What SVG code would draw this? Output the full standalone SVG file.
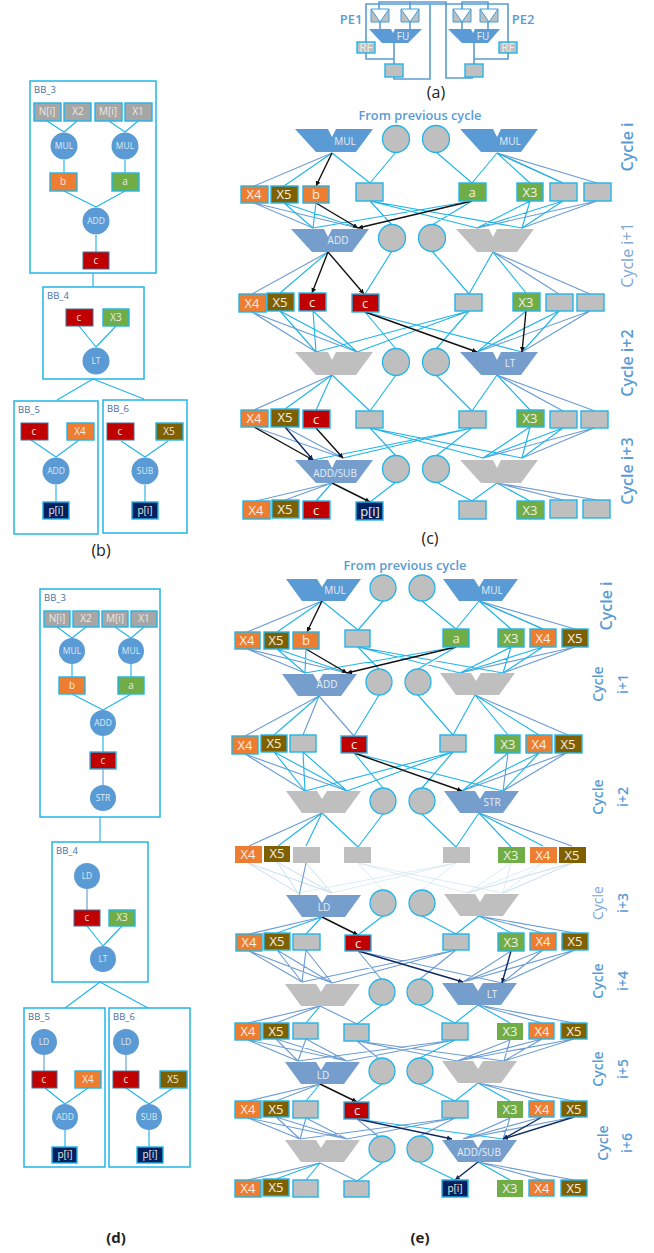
<svg xmlns="http://www.w3.org/2000/svg" width="654" height="1253" viewBox="0 0 654 1253">
<style>
text{font-family:"Open Sans","Noto Sans","Liberation Sans",sans-serif;text-anchor:middle}
.b{fill:none;stroke:#22b5e8;stroke-width:1.15}
.s{fill:none;stroke:#6d9dd4;stroke-width:1.15}
.f{fill:none;stroke:#d3e8ee;stroke-width:.8}
.f2{fill:none;stroke:#b9d5ea;stroke-width:.8}
.k{fill:none;stroke:#111;stroke-width:1.4;marker-end:url(#ak)}
.n{fill:none;stroke:#0f2a63;stroke-width:1.4;marker-end:url(#an)}
.p{fill:none;stroke:#5b9bd5;stroke-width:1.6}
.r{stroke:#22b5e8;stroke-width:1.4}
.o{fill:#ed7d31}.l{fill:#7f6000}.g{fill:#70ad47}.d{fill:#c00000}.v{fill:#002060}.y{fill:#bfbfbf}.a{fill:#a6a6a6}
.nb{stroke:none}
.c{fill:#bfbfbf;stroke:#22b5e8;stroke-width:1.3}
.o1{fill:#5b9bd5}
.box{fill:none;stroke:#22b5e8;stroke-width:1.5}
.m1{fill:#5b9bd5}.m2{fill:#759ecd}.m3{fill:#bfbfbf}
.t{font-size:13px;fill:#f4efe4}
.ts{font-size:10px;fill:#efe9e0}
.tc{font-size:8.5px;fill:#dfe9f4}
.ft{font-size:10px;fill:#e6edf6}
.bb{font-size:9.5px;fill:#47709f}
.cy{font-size:14px;fill:#5b9bd5;font-weight:600}
.cl{font-size:14px;fill:#7ea6d4}
.big{font-size:16px}
.hd{font-size:12.8px;fill:#5b9bd5;font-weight:600}
.pe{font-size:13px;fill:#5b9bd5;font-weight:600}
.cap{font-size:16px;fill:#222}
.cb{font-size:15px;fill:#222;font-weight:700}
</style>
<defs>
<marker id="ak" markerWidth="6" markerHeight="6" refX="5" refY="2.5" orient="auto" markerUnits="userSpaceOnUse"><path d="M0 0L5 2.5 0 5Z" fill="#111"/></marker>
<marker id="an" markerWidth="6" markerHeight="6" refX="5" refY="2.5" orient="auto" markerUnits="userSpaceOnUse"><path d="M0 0L5 2.5 0 5Z" fill="#0f2a63"/></marker>
<path id="fu" d="M0 0H33L37 8 41 0H78L61 23H21Z"/>
<path id="fe" d="M0 0H31L36 8 41 0H75L59 22H16Z"/>
<path id="mx" d="M0 0H18V13H0ZM0 0L9 13 18 0" />
</defs>

<g id="connectors">
<!-- (a) -->
<path class="p" d="M366 42V4H430V79H394V77M379 9V2H446V78H473M410 9V2M430 4H508V42M462 9V2H488V9M380 22V29M410 22V29M462 22V29M488 22V29M394 43V64M366 53V59H394M474 43V64M508 53V59H474"/>
<!-- (b) -->
<path class="b" d="M47 121L64 132M77 121L64 132M109 121L125 132M138 121L125 132M64 160V173M125 160V173M64 191L96 207M125 191L96 207M96 235V252M93 273V287M79 326L96 347M116 326L96 347M93 379L57 400M93 379L144 399M31 440L56 457M79 440L56 457M56 485V502M121 441L145 457M168 441L145 457M145 485V502"/>
<!-- (d) -->
<path class="b" d="M57 627L72 638M86 627L72 638M115 627L131 638M144 627L131 638M72 664V677M131 664V677M72 694L103 710M131 694L103 710M103 736V752M100 817V842M87 926L103 946M122 926L103 946M100 982L65 1008M100 982L148 1008M45 1088L65 1104M88 1088L65 1104M65 1130V1147M126 1088L149 1104M173 1088L149 1104M149 1130V1147"/>
<path class="s" d="M103 769V785M87 889V910M44 1055V1071M126 1055V1071"/>
<!-- (c) layer 0 -->
<path class="s" d="M332 153L254 186M497 153L597 183M497 153L563 183"/>
<path class="b" d="M332 153L284 186M332 153L370 183M396 152L370 183M436 152L472 183M497 153L472 183M497 153L530 183M497 153L563 183"/>
<path class="k" d="M332 153L316 186"/>
<!-- layer 1 -->
<path class="s" d="M254 203L313 228M254 203L358 228M597 201L477 228M597 201L522 228"/>
<path class="b" d="M284 203L313 228M284 203L358 228M316 203L313 228M370 201L392 225M370 201L477 228M370 201L522 228M472 201L432 225M472 201L313 228M530 201L477 228M530 201L522 228M563 201L477 228M563 201L522 228"/>
<path class="k" d="M316 203L358 228"/><path class="k" d="M472 201L358 228"/>
<!-- layer 2 -->
<path class="s" d="M328 252L252 294M493 252L559 294M493 252L590 294"/>
<path class="b" d="M328 252L280 293M392 251L365 294M432 251L469 294M493 252L469 294M493 252L526 293"/>
<path class="k" d="M328 252L312 293"/><path class="k" d="M328 252L364 294"/>
<!-- layer 3 -->
<path class="s" d="M252 312L316 352M252 312L357 352M590 311L477 352M590 311L522 352"/>
<path class="b" d="M280 311L316 352M280 311L357 352M313 311L316 352M313 311L357 352M365 312L396 349M365 312L522 352M469 311L436 349M469 311L316 352M469 311L357 352M526 311L477 352M559 311L477 352M559 311L522 352"/>
<path class="k" d="M365 312L477 352"/><path class="k" d="M526 311L522 352"/>
<!-- layer 4 -->
<path class="s" d="M332 375L254 410M497 375L563 411M497 375L595 411"/>
<path class="b" d="M332 375L285 409M332 375L316 410M332 375L370 411M396 375L370 411M436 375L472 411M497 375L472 411M497 375L530 410"/>
<!-- layer 5 -->
<path class="s" d="M254 427L343 458M285 427L343 458M594 428L483 458M594 428L522 458"/>
<path class="b" d="M370 428L396 456M370 428L483 458M370 428L522 458M472 428L436 456M472 428L313 460M472 428L343 458M530 427L483 458M530 427L522 458M563 428L483 458M563 428L522 458"/>
<path class="k" d="M254 427L313 460"/><path class="n" d="M285 427L313 460"/><path class="k" d="M316 428L343 458"/>
<!-- layer 6 -->
<path class="s" d="M332 483L256 501M332 483L285 500M497 483L563 500M497 483L597 500"/>
<path class="b" d="M332 483L316 501M396 482L370 502M436 482L472 501M497 483L472 501M497 483L530 501"/>
<path class="k" d="M332 483L370 502"/>
<!-- (e) layer 0 -->
<path class="s" d="M322 601L247 632M479 601L575 629M479 601L543 629"/>
<path class="b" d="M322 601L277 632M322 601L358 630M383 601L358 630M422 601L456 629M479 601L456 629M479 601L511 629M479 601L543 629"/>
<path class="k" d="M322 601L307 632"/>
<!-- layer 1 -->
<path class="s" d="M247 649L305 673M247 649L347 673M575 647L460 673M575 647L503 673"/>
<path class="b" d="M277 649L305 673M277 649L347 673M306 649L305 673M358 647L379 669M358 647L460 673M358 647L503 673M456 647L418 669M456 647L305 673M511 647L460 673M511 647L503 673M543 647L460 673M543 647L503 673"/>
<path class="k" d="M306 649L347 673"/><path class="k" d="M456 647L347 673"/>
<!-- layer 2 -->
<path class="s" d="M319 696L245 736M319 696L303 735M319 696L354 736M475 695L568 735"/>
<path class="b" d="M319 696L274 735M379 695L354 736M418 695L453 735M475 695L453 735M475 695L508 735M475 695L539 735"/>
<!-- layer 3 -->
<path class="s" d="M245 754L305 791M245 754L347 791M508 753L503 791M568 752L462 791M568 752L503 791"/>
<path class="b" d="M274 752L305 791M274 752L347 791M303 752L305 791M303 752L347 791M354 753L383 788M354 753L503 791M453 752L422 788M453 752L305 791M453 752L347 791M508 753L462 791M539 753L462 791M539 753L503 791"/>
<path class="k" d="M354 753L462 791"/>
<!-- layer 4 -->
<path class="s" d="M322 813L249 846M479 813L572 846"/>
<path class="b" d="M322 813L278 846M322 813L306 846M322 813L358 847M383 814L358 847M422 814L456 847M479 813L456 847M479 813L511 847M479 813L543 846"/>
<!-- layer 5: faded -->
<path class="f2" d="M248 863L298 893M248 863L332 893M277 862L298 893M277 862L332 893M306 863L332 893M575 862L467 893M575 862L503 893"/>
<path class="f" d="M358 863L383 890M358 863L467 893M358 863L503 893M456 863L422 890M456 863L298 893M456 863L332 893M511 863L467 893M511 863L503 893M543 863L467 893M543 863L503 893"/>
<path class="s" d="M306 863L297 905"/>
<!-- layer 6 -->
<path class="s" d="M322 917L249 934M479 916L543 933M479 916L575 933"/>
<path class="b" d="M322 917L277 933M322 917L306 934M383 916L358 935M422 916L456 934M479 916L456 934M479 916L511 933"/>
<path class="k" d="M322 917L358 935"/>
<!-- layer 7 -->
<path class="s" d="M249 951L302 982M249 951L332 983M277 950L302 982M277 950L332 983M306 950L302 982M306 950L332 983M358 951L381 979M358 951L502 983M456 950L420 979M456 950L302 982M456 950L332 983M511 951L463 982M543 950L463 982M543 950L502 983M575 950L463 982M575 950L502 983"/>
<path class="n" d="M358 951L463 982"/><path class="n" d="M511 951L502 983"/>
<!-- layer 8 -->
<path class="s" d="M320 1006L248 1023M320 1006L276 1023M320 1006L357 1024M478 1005L542 1023M478 1005L574 1023"/>
<path class="b" d="M320 1006L306 1023M382 1005L357 1024M420 1005L455 1023M478 1005L455 1023M478 1005L510 1023"/>
<!-- layer 9 -->
<path class="s" d="M248 1040L298 1061M248 1040L347 1061M276 1039L298 1061M276 1039L347 1061M306 1039L298 1061M306 1039L347 1061M357 1041L378 1058M357 1041L457 1061M357 1041L504 1061M455 1040L298 1061M455 1040L347 1061M510 1040L457 1061M510 1040L504 1061M542 1039L457 1061M542 1039L504 1061M574 1039L457 1061M574 1039L504 1061"/>
<path class="b" d="M455 1040L420 1058"/>
<!-- layer 10 -->
<path class="s" d="M320 1084L248 1101M320 1084L276 1101M478 1083L542 1101M478 1083L574 1101"/>
<path class="b" d="M320 1084L306 1101M382 1084L357 1102M420 1084L455 1101M478 1083L455 1101M478 1083L510 1101"/>
<path class="k" d="M320 1084L357 1102"/>
<!-- layer 11 -->
<path class="s" d="M248 1118L300 1139M248 1118L347 1139M276 1117L300 1139M276 1117L347 1139M306 1118L300 1139M306 1118L347 1139M357 1119L378 1136M455 1118L420 1136M455 1118L300 1139M455 1118L347 1139M510 1118L463 1139M510 1118L503 1139M542 1117L463 1139M574 1117L463 1139"/>
<path class="b" d="M357 1119L503 1139"/>
<path class="n" d="M357 1119L452 1139"/><path class="n" d="M542 1117L503 1139"/><path class="n" d="M574 1117L503 1139"/>
<!-- layer 12 -->
<path class="s" d="M320 1163L248 1180M320 1163L357 1181M478 1162L542 1180M478 1162L574 1180"/>
<path class="b" d="M320 1163L276 1179M320 1163L306 1180M382 1163L357 1181M420 1163L455 1180M478 1162L510 1180"/>
<path class="n" d="M478 1162L455 1180"/>
</g>

<g id="a-nodes">
<g id="a-m1"><use href="#mx" transform="translate(371 9)" fill="#bfbfbf" stroke="#3f9fdc"/></g>
<g id="a-m2"><use href="#mx" transform="translate(401 9)" fill="#bfbfbf" stroke="#3f9fdc"/></g>
<g id="a-m3"><use href="#mx" transform="translate(453 9)" fill="#bfbfbf" stroke="#3f9fdc"/></g>
<g id="a-m4"><use href="#mx" transform="translate(480 9)" fill="#bfbfbf" stroke="#3f9fdc"/></g>
<g id="a-fu1"><path class="m1" d="M369 29H391L393 33 395 29H422L408 43H382Z"/><text class="ft" x="403" y="40">FU</text></g>
<g id="a-fu2"><path class="m1" d="M448 29H471L473 33 475 29H500L488 43H462Z"/><text class="ft" x="483" y="40">FU</text></g>
<g id="a-rf1"><rect class="r y" x="357" y="42" width="18" height="11"/><text class="ts" x="366" y="52" style="font-size:12px">RF</text></g>
<g id="a-rf2"><rect class="r y" x="499" y="42" width="18" height="11"/><text class="ts" x="508" y="52" style="font-size:12px">RF</text></g>
<g id="a-r1"><rect class="r y" x="385" y="64" width="18" height="13"/></g>
<g id="a-r2"><rect class="r y" x="465" y="64" width="18" height="13"/></g>
<text class="pe" x="351" y="24">PE1</text><text class="pe" x="523" y="24">PE2</text>
<text class="cap" x="436" y="98">(a)</text>
</g>

<g id="b-nodes">
<g id="b-bb3"><rect class="box" x="30" y="81" width="126" height="192"/><text class="bb" x="45" y="93">BB_3</text></g>
<g id="b-n"><rect class="r a" x="34" y="103" width="27" height="18"/><text class="ts" x="47" y="115">N[i]</text></g>
<g id="b-x2"><rect class="r a" x="64" y="103" width="27" height="18"/><text class="ts" x="78" y="115">X2</text></g>
<g id="b-m"><rect class="r a" x="95" y="103" width="27" height="18"/><text class="ts" x="108" y="115">M[i]</text></g>
<g id="b-x1"><rect class="r a" x="125" y="103" width="27" height="18"/><text class="ts" x="138" y="115">X1</text></g>
<g id="b-mul1"><circle class="o1" cx="64" cy="146" r="13.5"/><text class="tc" x="64" y="149">MUL</text></g>
<g id="b-mul2"><circle class="o1" cx="125" cy="146" r="13.5"/><text class="tc" x="125" y="149">MUL</text></g>
<g id="b-b"><rect class="r o" x="50" y="173" width="27" height="18"/><text class="ts" x="63" y="185">b</text></g>
<g id="b-a"><rect class="r g" x="112" y="173" width="27" height="18"/><text class="ts" x="125" y="185">a</text></g>
<g id="b-add"><circle class="o1" cx="96" cy="221" r="13.5"/><text class="tc" x="96" y="224">ADD</text></g>
<g id="b-c"><rect class="d" x="83" y="252" width="26" height="17" stroke="#41719c"/><text class="ts" x="96" y="264">c</text></g>
<g id="b-bb4"><rect class="box" x="43" y="287" width="101" height="92"/><text class="bb" x="58" y="299">BB_4</text></g>
<g id="b4-c"><rect class="d" x="66" y="309" width="27" height="17" stroke="#41719c"/><text class="ts" x="79" y="321">c</text></g>
<g id="b4-x3"><rect class="r g" x="103" y="309" width="26" height="17"/><text class="ts" x="116" y="321">X3</text></g>
<g id="b4-lt"><circle class="o1" cx="96" cy="361" r="13.5"/><text class="tc" x="96" y="364">LT</text></g>
<g id="b-bb5"><rect class="box" x="14" y="401" width="84" height="133"/><text class="bb" x="29" y="413">BB_5</text></g>
<g id="b5-c"><rect class="d" x="21" y="423" width="27" height="17" stroke="#41719c"/><text class="ts" x="34" y="435">c</text></g>
<g id="b5-x4"><rect class="r o" x="67" y="423" width="27" height="17"/><text class="ts" x="80" y="435">X4</text></g>
<g id="b5-add"><circle class="o1" cx="56" cy="471" r="13.5"/><text class="tc" x="56" y="474">ADD</text></g>
<g id="b5-p"><rect class="r v" x="43" y="502" width="26" height="17"/><text class="ts" x="56" y="514">p[i]</text></g>
<g id="b-bb6"><rect class="box" x="103" y="400" width="84" height="133"/><text class="bb" x="118" y="412">BB_6</text></g>
<g id="b6-c"><rect class="d" x="107" y="423" width="27" height="17" stroke="#41719c"/><text class="ts" x="120" y="435">c</text></g>
<g id="b6-x5"><rect class="r l" x="156" y="423" width="27" height="17"/><text class="ts" x="169" y="435">X5</text></g>
<g id="b6-sub"><circle class="o1" cx="145" cy="471" r="13.5"/><text class="tc" x="145" y="474">SUB</text></g>
<g id="b6-p"><rect class="r v" x="132" y="502" width="26" height="17"/><text class="ts" x="145" y="514">p[i]</text></g>
<text class="cap" x="101" y="556">(b)</text>
</g>

<g id="c-nodes">
<text class="hd" x="420" y="120">From previous cycle</text>
<g id="c-fu0a"><use class="m1" href="#fu" x="295" y="129"/><text class="ft" x="345" y="145">MUL</text></g>
<g id="c-ci0"><circle class="c" cx="396" cy="139" r="13.5"/></g>
<g id="c-ci1"><circle class="c" cx="436" cy="139" r="13.5"/></g>
<g id="c-fu0b"><use class="m1" href="#fu" x="460" y="129"/><text class="ft" x="510" y="145">MUL</text></g>
<g id="c1-x4"><rect class="r o" x="241" y="186" width="27" height="17"/><text class="t" x="254" y="199">X4</text></g>
<g id="c1-x5"><rect class="r l" x="271" y="186" width="27" height="17"/><text class="t" x="284" y="199">X5</text></g>
<g id="c1-b"><rect class="r o" x="303" y="186" width="26" height="17"/><text class="t" x="316" y="199">b</text></g>
<g id="c1-e1"><rect class="r y" x="356" y="183" width="27" height="18"/></g>
<g id="c1-a"><rect class="r g" x="459" y="183" width="27" height="18"/><text class="t" x="472" y="197">a</text></g>
<g id="c1-x3"><rect class="r g" x="517" y="183" width="26" height="18"/><text class="t" x="530" y="197">X3</text></g>
<g id="c1-e2"><rect class="r y" x="550" y="183" width="27" height="18"/></g>
<g id="c1-e3"><rect class="r y" x="584" y="183" width="27" height="18"/></g>
<g id="c-fu1a"><use class="m2" href="#fu" x="291" y="229"/><text class="ft" x="338" y="244">ADD</text></g>
<g id="c-ci2"><circle class="c" cx="392" cy="238" r="13.5"/></g>
<g id="c-ci3"><circle class="c" cx="432" cy="238" r="13.5"/></g>
<g id="c-fu1b"><use class="m3" href="#fu" x="456" y="229"/></g>
<g id="c2-x4"><rect class="r o" x="239" y="294" width="27" height="18"/><text class="t" x="252" y="308">X4</text></g>
<g id="c2-x5"><rect class="r l" x="267" y="293" width="27" height="18"/><text class="t" x="280" y="307">X5</text></g>
<g id="c2-c1"><rect class="r d" x="299" y="293" width="27" height="18"/><text class="t" x="312" y="307">c</text></g>
<g id="c2-c2"><rect class="r d" x="352" y="294" width="27" height="18"/><text class="t" x="365" y="308">c</text></g>
<g id="c2-e1"><rect class="r y" x="455" y="294" width="27" height="17"/></g>
<g id="c2-x3"><rect class="r g" x="513" y="293" width="27" height="18"/><text class="t" x="526" y="307">X3</text></g>
<g id="c2-e2"><rect class="r y" x="546" y="294" width="27" height="17"/></g>
<g id="c2-e3"><rect class="r y" x="577" y="294" width="27" height="17"/></g>
<g id="c-fu2a"><use class="m3" href="#fu" x="295" y="352"/></g>
<g id="c-ci4"><circle class="c" cx="396" cy="362" r="13.5"/></g>
<g id="c-ci5"><circle class="c" cx="436" cy="362" r="13.5"/></g>
<g id="c-fu2b"><use class="m2" href="#fu" x="460" y="352"/><text class="ft" x="510" y="367">LT</text></g>
<g id="c3-x4"><rect class="r o" x="241" y="410" width="27" height="17"/><text class="t" x="254" y="423">X4</text></g>
<g id="c3-x5"><rect class="r l" x="271" y="409" width="28" height="18"/><text class="t" x="285" y="422">X5</text></g>
<g id="c3-c"><rect class="r d" x="303" y="410" width="27" height="18"/><text class="t" x="316" y="424">c</text></g>
<g id="c3-e1"><rect class="r y" x="356" y="411" width="27" height="17"/></g>
<g id="c3-e2"><rect class="r y" x="459" y="411" width="27" height="17"/></g>
<g id="c3-x3"><rect class="r g" x="517" y="410" width="27" height="17"/><text class="t" x="530" y="423">X3</text></g>
<g id="c3-e3"><rect class="r y" x="550" y="411" width="27" height="17"/></g>
<g id="c3-e4"><rect class="r y" x="581" y="411" width="27" height="17"/></g>
<g id="c-fu3a"><use class="m2" href="#fu" x="295" y="460"/><text class="ft" x="335" y="477">ADD/SUB</text></g>
<g id="c-ci6"><circle class="c" cx="396" cy="469" r="13.5"/></g>
<g id="c-ci7"><circle class="c" cx="436" cy="469" r="13.5"/></g>
<g id="c-fu3b"><use class="m3" href="#fu" x="460" y="460"/></g>
<g id="c4-x4"><rect class="r o" x="243" y="501" width="27" height="18"/><text class="t" x="256" y="515">X4</text></g>
<g id="c4-x5"><rect class="r l" x="272" y="500" width="27" height="18"/><text class="t" x="285" y="514">X5</text></g>
<g id="c4-c"><rect class="r d" x="303" y="501" width="27" height="18"/><text class="t" x="316" y="515">c</text></g>
<g id="c4-p"><rect class="r v" x="356" y="502" width="27" height="18"/><text class="t" x="370" y="516">p[i]</text></g>
<g id="c4-e1"><rect class="r y" x="459" y="501" width="27" height="18"/></g>
<g id="c4-x3"><rect class="r g" x="517" y="501" width="27" height="18"/><text class="t" x="530" y="515">X3</text></g>
<g id="c4-e2"><rect class="r y" x="550" y="500" width="27" height="18"/></g>
<g id="c4-e3"><rect class="r y" x="583" y="500" width="27" height="18"/></g>
<text class="cy big" transform="translate(633 147) rotate(-90)">Cycle i</text>
<text class="cl big" transform="translate(633 255) rotate(-90)">Cycle i+1</text>
<text class="cy big" transform="translate(633 363) rotate(-90)">Cycle i+2</text>
<text class="cy big" transform="translate(633 471) rotate(-90)">Cycle i+3</text>
<text class="cap" x="430" y="544">(c)</text>
</g>

<g id="d-nodes">
<g id="d-bb3"><rect class="box" x="40" y="589" width="120" height="228"/><text class="bb" x="55" y="601">BB_3</text></g>
<g id="d-n"><rect class="r a" x="44" y="611" width="26" height="16"/><text class="ts" x="57" y="622">N[i]</text></g>
<g id="d-x2"><rect class="r a" x="73" y="611" width="26" height="16"/><text class="ts" x="86" y="622">X2</text></g>
<g id="d-m"><rect class="r a" x="102" y="611" width="26" height="16"/><text class="ts" x="115" y="622">M[i]</text></g>
<g id="d-x1"><rect class="r a" x="131" y="611" width="26" height="16"/><text class="ts" x="144" y="622">X1</text></g>
<g id="d-mul1"><circle class="o1" cx="72" cy="651" r="13"/><text class="tc" x="72" y="654">MUL</text></g>
<g id="d-mul2"><circle class="o1" cx="131" cy="651" r="13"/><text class="tc" x="131" y="654">MUL</text></g>
<g id="d-b"><rect class="r o" x="59" y="677" width="26" height="17"/><text class="ts" x="72" y="689">b</text></g>
<g id="d-a"><rect class="r g" x="118" y="677" width="26" height="17"/><text class="ts" x="131" y="689">a</text></g>
<g id="d-add"><circle class="o1" cx="103" cy="723" r="13"/><text class="tc" x="103" y="726">ADD</text></g>
<g id="d-c"><rect class="r d" x="90" y="752" width="26" height="17"/><text class="ts" x="103" y="764">c</text></g>
<g id="d-str"><circle class="o1" cx="103" cy="798" r="13"/><text class="tc" x="103" y="801">STR</text></g>
<g id="d-bb4"><rect class="box" x="52" y="842" width="96" height="140"/><text class="bb" x="67" y="854">BB_4</text></g>
<g id="d4-ld"><circle class="o1" cx="87" cy="876" r="13"/><text class="tc" x="87" y="879">LD</text></g>
<g id="d4-c"><rect class="d" x="74" y="910" width="26" height="16" stroke="#41719c"/><text class="ts" x="87" y="921">c</text></g>
<g id="d4-x3"><rect class="r g" x="109" y="910" width="26" height="16"/><text class="ts" x="122" y="921">X3</text></g>
<g id="d4-lt"><circle class="o1" cx="103" cy="959" r="13"/><text class="tc" x="103" y="962">LT</text></g>
<g id="d-bb5"><rect class="box" x="24" y="1008" width="81" height="159"/><text class="bb" x="39" y="1020">BB_5</text></g>
<g id="d5-ld"><circle class="o1" cx="44" cy="1042" r="13"/><text class="tc" x="44" y="1045">LD</text></g>
<g id="d5-c"><rect class="d" x="32" y="1071" width="25" height="17" stroke="#41719c"/><text class="ts" x="44" y="1083">c</text></g>
<g id="d5-x4"><rect class="r o" x="75" y="1071" width="26" height="17"/><text class="ts" x="88" y="1083">X4</text></g>
<g id="d5-add"><circle class="o1" cx="65" cy="1117" r="13"/><text class="tc" x="65" y="1120">ADD</text></g>
<g id="d5-p"><rect class="r v" x="52" y="1147" width="25" height="16"/><text class="ts" x="65" y="1158">p[i]</text></g>
<g id="d-bb6"><rect class="box" x="109" y="1008" width="81" height="159"/><text class="bb" x="124" y="1020">BB_6</text></g>
<g id="d6-ld"><circle class="o1" cx="126" cy="1042" r="13"/><text class="tc" x="126" y="1045">LD</text></g>
<g id="d6-c"><rect class="d" x="113" y="1071" width="26" height="17" stroke="#41719c"/><text class="ts" x="126" y="1083">c</text></g>
<g id="d6-x5"><rect class="r l" x="160" y="1071" width="27" height="17"/><text class="ts" x="173" y="1083">X5</text></g>
<g id="d6-sub"><circle class="o1" cx="149" cy="1117" r="13"/><text class="tc" x="149" y="1120">SUB</text></g>
<g id="d6-p"><rect class="r v" x="137" y="1147" width="26" height="16"/><text class="ts" x="150" y="1158">p[i]</text></g>
<text class="cb" x="116" y="1243">(d)</text>
</g>

<g id="e-nodes">
<text class="hd" x="405" y="570">From previous cycle</text>
<g id="e-fu0a"><use class="m1" href="#fe" x="286" y="579"/><text class="ft" x="335" y="594">MUL</text></g>
<g id="e-ci0"><circle class="c" cx="383" cy="588" r="13"/></g>
<g id="e-ci1"><circle class="c" cx="422" cy="588" r="13"/></g>
<g id="e-fu0b"><use class="m1" href="#fe" x="443" y="579"/><text class="ft" x="492" y="594">MUL</text></g>
<g id="e1-x4"><rect class="r o" x="235" y="632" width="25" height="17"/><text class="t" x="247" y="645">X4</text></g>
<g id="e1-x5"><rect class="r l" x="264" y="632" width="25" height="17"/><text class="t" x="276" y="645">X5</text></g>
<g id="e1-b"><rect class="r o" x="293" y="632" width="26" height="17"/><text class="t" x="306" y="645">b</text></g>
<g id="e1-e1"><rect class="r y" x="345" y="630" width="25" height="17"/></g>
<g id="e1-a"><rect class="r g" x="443" y="629" width="26" height="18"/><text class="t" x="456" y="643">a</text></g>
<g id="e1-x3"><rect class="r g" x="498" y="629" width="26" height="18"/><text class="t" x="511" y="643">X3</text></g>
<g id="e1-x4b"><rect class="r o" x="530" y="629" width="26" height="18"/><text class="t" x="543" y="643">X4</text></g>
<g id="e1-x5b"><rect class="r l" x="562" y="629" width="26" height="18"/><text class="t" x="575" y="643">X5</text></g>
<g id="e-fu1a"><use class="m2" href="#fe" x="282" y="674"/><text class="ft" x="327" y="688">ADD</text></g>
<g id="e-ci2"><circle class="c" cx="379" cy="682" r="13"/></g>
<g id="e-ci3"><circle class="c" cx="418" cy="682" r="13"/></g>
<g id="e-fu1b"><use class="m3" href="#fe" x="440" y="673"/></g>
<g id="e2-x4"><rect class="r o" x="232" y="736" width="26" height="18"/><text class="t" x="245" y="750">X4</text></g>
<g id="e2-x5"><rect class="r l" x="261" y="735" width="26" height="17"/><text class="t" x="274" y="748">X5</text></g>
<g id="e2-e1"><rect class="r y" x="290" y="735" width="26" height="17"/></g>
<g id="e2-c"><rect class="r d" x="341" y="736" width="26" height="17"/><text class="t" x="354" y="749">c</text></g>
<g id="e2-e2"><rect class="r y" x="440" y="735" width="26" height="17"/></g>
<g id="e2-x3"><rect class="r g" x="495" y="735" width="25" height="18"/><text class="t" x="508" y="749">X3</text></g>
<g id="e2-x4b"><rect class="r o" x="526" y="735" width="26" height="18"/><text class="t" x="539" y="749">X4</text></g>
<g id="e2-x5b"><rect class="r l" x="555" y="735" width="27" height="18"/><text class="t" x="568" y="749">X5</text></g>
<g id="e-fu2a"><use class="m3" href="#fe" x="286" y="791"/></g>
<g id="e-ci4"><circle class="c" cx="383" cy="801" r="13"/></g>
<g id="e-ci5"><circle class="c" cx="422" cy="801" r="13"/></g>
<g id="e-fu2b"><use class="m2" href="#fe" x="444" y="791"/><text class="ft" x="492" y="806">STR</text></g>
<g id="e3-x4"><rect class="nb o" x="235" y="846" width="27" height="17"/><text class="t" x="248" y="859">X4</text></g>
<g id="e3-x5"><rect class="nb l" x="264" y="846" width="26" height="16"/><text class="t" x="277" y="858">X5</text></g>
<g id="e3-e1"><rect class="nb y" x="293" y="847" width="27" height="16"/></g>
<g id="e3-e2"><rect class="nb y" x="344" y="847" width="27" height="16"/></g>
<g id="e3-e3"><rect class="nb y" x="443" y="847" width="27" height="16"/></g>
<g id="e3-x3"><rect class="nb g" x="498" y="847" width="27" height="16"/><text class="t" x="511" y="860">X3</text></g>
<g id="e3-x4b"><rect class="nb o" x="530" y="847" width="27" height="16"/><text class="t" x="543" y="860">X4</text></g>
<g id="e3-x5b"><rect class="nb l" x="559" y="847" width="27" height="16"/><text class="t" x="572" y="860">X5</text></g>
<g id="e-fu3a"><use class="m2" href="#fe" x="286" y="895"/><text class="ft" x="324" y="911">LD</text></g>
<g id="e-ci6"><circle class="c" cx="383" cy="903" r="13"/></g>
<g id="e-ci7"><circle class="c" cx="422" cy="903" r="13"/></g>
<g id="e-fu3b"><use class="m3" href="#fe" x="444" y="894"/></g>
<g id="e4-x4"><rect class="r o" x="236" y="934" width="26" height="17"/><text class="t" x="249" y="947">X4</text></g>
<g id="e4-x5"><rect class="r l" x="264" y="933" width="26" height="17"/><text class="t" x="277" y="946">X5</text></g>
<g id="e4-e1"><rect class="r y" x="293" y="934" width="27" height="16"/></g>
<g id="e4-c"><rect class="r d" x="345" y="935" width="26" height="16"/><text class="t" x="358" y="948">c</text></g>
<g id="e4-e2"><rect class="r y" x="443" y="934" width="26" height="16"/></g>
<g id="e4-x3"><rect class="r g" x="498" y="933" width="26" height="18"/><text class="t" x="511" y="947">X3</text></g>
<g id="e4-x4b"><rect class="r o" x="530" y="933" width="26" height="17"/><text class="t" x="543" y="946">X4</text></g>
<g id="e4-x5b"><rect class="r l" x="562" y="933" width="26" height="17"/><text class="t" x="575" y="946">X5</text></g>
<g id="e-fu4a"><use class="m3" href="#fe" x="285" y="984"/></g>
<g id="e-ci8"><circle class="c" cx="382" cy="992" r="13"/></g>
<g id="e-ci9"><circle class="c" cx="420" cy="992" r="13"/></g>
<g id="e-fu4b"><use class="m2" href="#fe" x="442" y="983"/><text class="ft" x="492" y="998">LT</text></g>
<g id="e5-x4"><rect class="r o" x="235" y="1023" width="26" height="17"/><text class="t" x="248" y="1036">X4</text></g>
<g id="e5-x5"><rect class="r l" x="263" y="1023" width="26" height="16"/><text class="t" x="276" y="1036">X5</text></g>
<g id="e5-e1"><rect class="r y" x="293" y="1023" width="25" height="16"/></g>
<g id="e5-e2"><rect class="r y" x="344" y="1024" width="25" height="17"/></g>
<g id="e5-e3"><rect class="r y" x="442" y="1023" width="26" height="17"/></g>
<g id="e5-x3"><rect class="nb g" x="497" y="1023" width="26" height="17"/><text class="t" x="510" y="1036">X3</text></g>
<g id="e5-x4b"><rect class="r o" x="529" y="1023" width="25" height="16"/><text class="t" x="542" y="1036">X4</text></g>
<g id="e5-x5b"><rect class="r l" x="561" y="1023" width="26" height="16"/><text class="t" x="574" y="1036">X5</text></g>
<g id="e-fu5a"><use class="m2" href="#fe" x="285" y="1062"/><text class="ft" x="323" y="1079">LD</text></g>
<g id="e-ci10"><circle class="c" cx="382" cy="1071" r="13"/></g>
<g id="e-ci11"><circle class="c" cx="420" cy="1071" r="13"/></g>
<g id="e-fu5b"><use class="m3" href="#fe" x="442" y="1061"/></g>
<g id="e6-x4"><rect class="r o" x="235" y="1101" width="26" height="17"/><text class="t" x="248" y="1114">X4</text></g>
<g id="e6-x5"><rect class="r l" x="263" y="1101" width="26" height="16"/><text class="t" x="276" y="1114">X5</text></g>
<g id="e6-e1"><rect class="r y" x="293" y="1101" width="25" height="17"/></g>
<g id="e6-c"><rect class="r d" x="344" y="1102" width="25" height="17"/><text class="t" x="357" y="1115">c</text></g>
<g id="e6-e2"><rect class="r y" x="442" y="1101" width="26" height="17"/></g>
<g id="e6-x3"><rect class="nb g" x="497" y="1101" width="26" height="17"/><text class="t" x="510" y="1114">X3</text></g>
<g id="e6-x4b"><rect class="r o" x="529" y="1101" width="25" height="16"/><text class="t" x="542" y="1114">X4</text></g>
<g id="e6-x5b"><rect class="r l" x="561" y="1101" width="26" height="16"/><text class="t" x="574" y="1114">X5</text></g>
<g id="e-fu6a"><use class="m3" href="#fe" x="285" y="1140"/></g>
<g id="e-ci12"><circle class="c" cx="382" cy="1149" r="13"/></g>
<g id="e-ci13"><circle class="c" cx="420" cy="1149" r="13"/></g>
<g id="e-fu6b"><use class="m2" href="#fe" x="442" y="1140"/><text class="ft" x="479" y="1156">ADD/SUB</text></g>
<g id="e7-x4"><rect class="r o" x="235" y="1180" width="26" height="17"/><text class="t" x="248" y="1193">X4</text></g>
<g id="e7-x5"><rect class="r l" x="263" y="1179" width="26" height="17"/><text class="t" x="276" y="1192">X5</text></g>
<g id="e7-e1"><rect class="r y" x="293" y="1180" width="25" height="17"/></g>
<g id="e7-e2"><rect class="r y" x="344" y="1181" width="25" height="16"/></g>
<g id="e7-p"><rect class="r v" x="442" y="1180" width="26" height="17"/><text class="ts" x="455" y="1192">p[i]</text></g>
<g id="e7-x3"><rect class="nb g" x="497" y="1180" width="26" height="17"/><text class="t" x="510" y="1193">X3</text></g>
<g id="e7-x4b"><rect class="r o" x="529" y="1180" width="25" height="16"/><text class="t" x="542" y="1193">X4</text></g>
<g id="e7-x5b"><rect class="r l" x="561" y="1180" width="26" height="16"/><text class="t" x="574" y="1193">X5</text></g>
<text class="cy big" transform="translate(612 606) rotate(-90)">Cycle i</text>
<text class="cy" transform="translate(603 684) rotate(-90)">Cycle</text><text class="cy" transform="translate(628 684) rotate(-90)">i+1</text>
<text class="cy" transform="translate(603 797) rotate(-90)">Cycle</text><text class="cy" transform="translate(628 797) rotate(-90)">i+2</text>
<text class="cl" transform="translate(603 903) rotate(-90)">Cycle</text><text class="cy" transform="translate(628 903) rotate(-90)">i+3</text>
<text class="cy" transform="translate(603 981) rotate(-90)">Cycle</text><text class="cy" transform="translate(628 981) rotate(-90)">i+4</text>
<text class="cy" transform="translate(603 1069) rotate(-90)">Cycle</text><text class="cy" transform="translate(628 1069) rotate(-90)">i+5</text>
<text class="cy" transform="translate(608 1143) rotate(-90)">Cycle</text><text class="cy" transform="translate(632 1143) rotate(-90)">i+6</text>
<text class="cb" x="420" y="1243">(e)</text>
</g>
</svg>
